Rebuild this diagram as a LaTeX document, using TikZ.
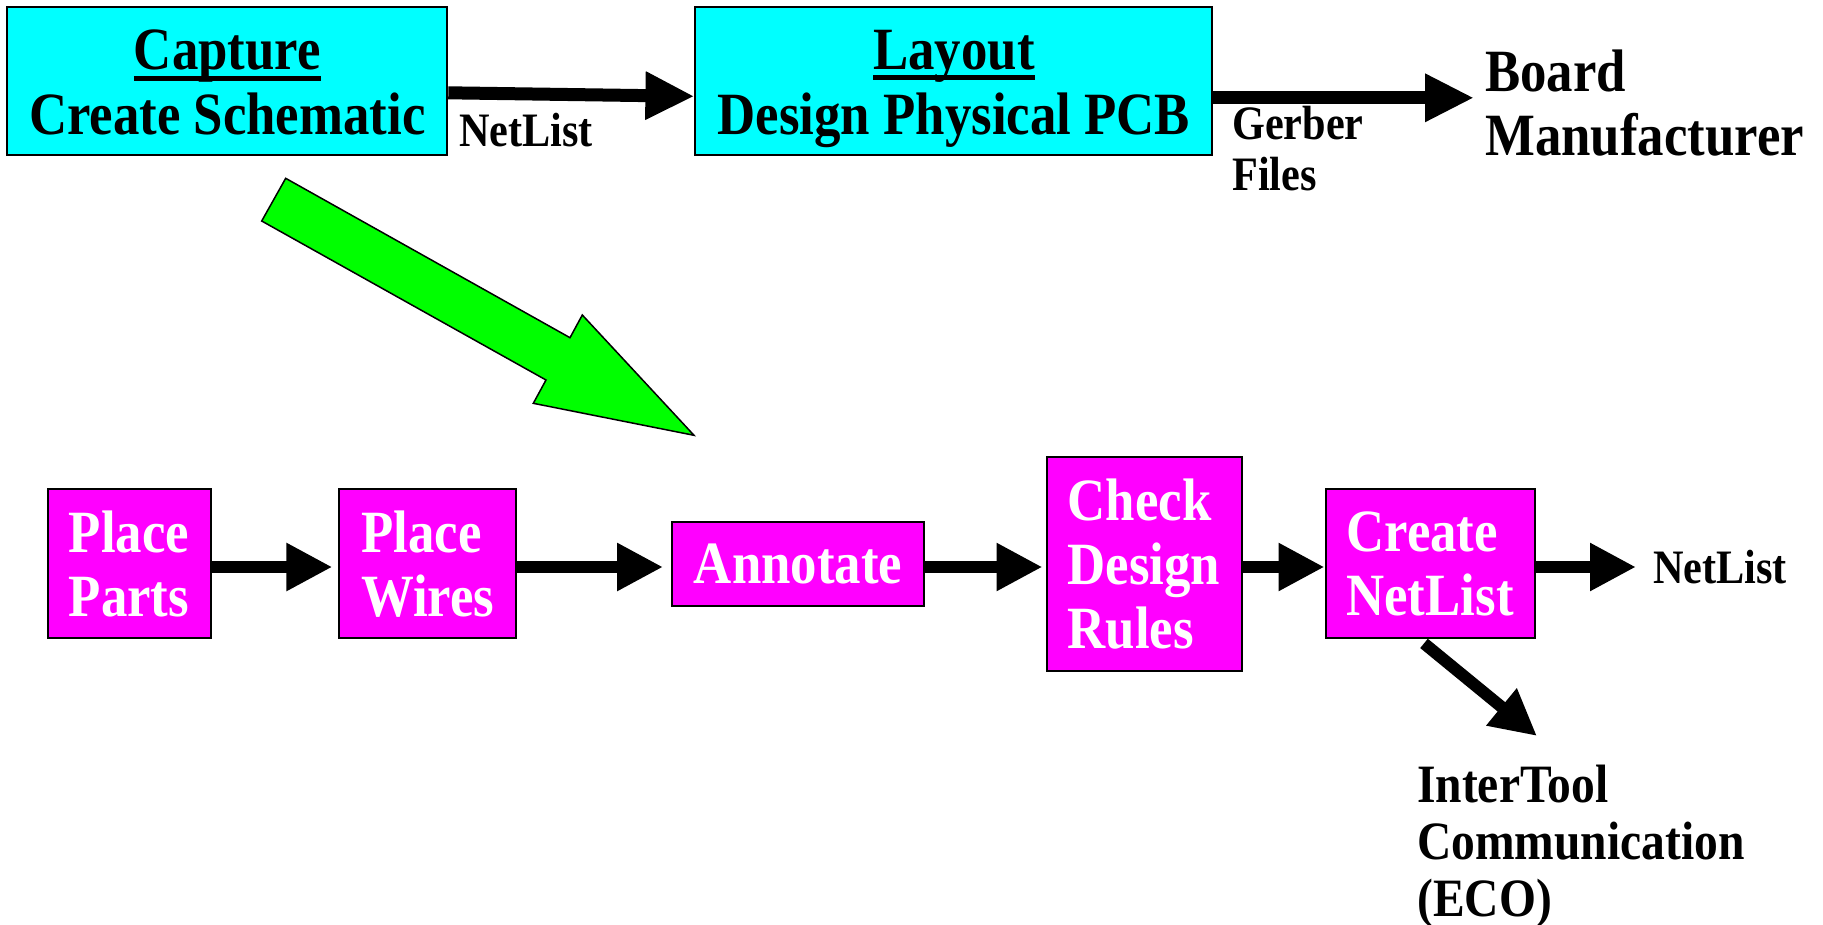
\documentclass[tikz,border=0pt]{standalone}
\usepackage{fontspec}
\setmainfont{Liberation Serif}[FakeStretch=0.88,BoldFont={Liberation Serif Bold},BoldFeatures={FakeStretch=0.88}]
\usetikzlibrary{arrows.meta,calc}
\definecolor{cy}{RGB}{0,255,255}
\definecolor{mg}{RGB}{255,0,255}
\definecolor{gr}{RGB}{0,255,0}
\newcommand\myul[1]{\setbox0\hbox{#1}\rlap{\rule[-11pt]{\wd0}{5pt}}\box0}
\begin{document}
\begin{tikzpicture}[x=1pt,y=-1pt,
  topbox/.style={draw=black,line width=2pt,fill=cy,inner sep=0pt},
  toptext/.style={inner sep=0pt,align=center,font=\bfseries\fontsize{60}{65}\selectfont},
  lowbox/.style={draw=black,line width=2pt,fill=mg,inner sep=0pt,align=left,text=white,
    font=\bfseries\fontsize{60}{64}\selectfont},
  arr/.style={line width=12pt,-{Triangle[length=46pt,width=45pt]}},
  toparr/.style={line width=13pt,-{Triangle[length=49pt,width=45pt]}},
  lbl/.style={inner sep=0pt,align=left,font=\bfseries\fontsize{48}{51}\selectfont},
  big/.style={inner sep=0pt,align=left,font=\bfseries\fontsize{60}{64}\selectfont}]
\useasboundingbox (0,0) rectangle (1823,924);
% top boxes
\node[topbox,minimum width=440pt,minimum height=148pt] (cap) at (227.3,80.8) {};
\node[toptext] (capt) at ([yshift=-8pt]cap.center) {\myul{Capture}\\Create Schematic\vphantom{gy}};
\node[topbox,minimum width=517pt,minimum height=148pt] (lay) at (953.9,80.8) {};
\node[toptext] (layt) at ([yshift=-8pt]lay.center) {\myul{Layout}\\Design Physical PCB};
\node[lbl,anchor=west] (nl1) at (459,130) {NetList};
\node[lbl,anchor=west] (gf) at (1232,149) {Gerber\\Files};
\node[big,anchor=west] (bm) at (1485,103) {Board\\Manufacturer};
\draw[toparr] ($(cap.east)+(0,12)$) -- ($(lay.west)+(0,15.5)$);
\draw[toparr] ($(lay.east)+(0,17)$) -- ($(bm.west |- lay.east)+(-11,17)$);
% green arrow
\draw[fill=gr,line width=1.5pt,line join=miter] (285.7,178.3) -- (261.7,221) -- (546,380) -- (533.3,403.3) -- (694,435.3) -- (582.3,315) -- (570,337.7) -- cycle;
% lower boxes
\node[lowbox,minimum width=163pt,minimum height=149pt] (pp) at (129,563.9) {Place\\Parts};
\node[lowbox,minimum width=177pt,minimum height=149pt] (pw) at (427.9,563.9) {Place\\Wires};
\node[lowbox,minimum width=252pt,minimum height=84pt] (ann) at (798.1,563.9) {Annotate};
\node[lowbox,minimum width=195pt,minimum height=214pt] (cdr) at (1144,563.9) {Check\\Design\\Rules};
\node[lowbox,minimum width=209pt,minimum height=149pt] (cnl) at (1430,563.9) {Create\\NetList};
\node[lbl,anchor=west] (nl2) at (1653,567) {NetList};
\node[lbl,anchor=west,font=\bfseries\fontsize{54}{57}\selectfont] (itc) at (1417,847) {InterTool\\Communication\\(ECO)};
\coordinate (ecotip) at (1537,736);
\draw[arr,shorten >=6pt] (pp.east |- 0,567) -- (pw.west |- 0,567);
\draw[arr,shorten >=8pt] (pw.east |- 0,567) -- (ann.west |- 0,567);
\draw[arr,shorten >=3pt] (ann.east |- 0,567) -- (cdr.west |- 0,567);
\draw[arr] (cdr.east |- 0,567) -- (cnl.west |- 0,567);
\draw[arr,shorten >=17pt] (cnl.east |- 0,567) -- (nl2.west);
\draw[arr] ($(cnl.south)+(-6,4)$) -- (ecotip);
\end{tikzpicture}
\end{document}
